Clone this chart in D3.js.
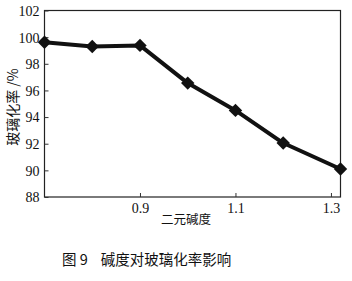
<!DOCTYPE html>
<html>
<head>
<meta charset="utf-8">
<script src="https://cdn.jsdelivr.net/npm/d3@7"></script>
<style>
  body { margin: 0; background: #fff; }
  text { fill: #111; }
</style>
</head>
<body>
<script>
// basicity vs vitrification rate
var basicity = [0.7, 0.8, 0.9, 1.0, 1.1, 1.2, 1.32];
var glassRate = [99.62, 99.3, 99.38, 96.55, 94.5, 92.05, 90.1];
var xTicks = [0.9, 1.1, 1.3];
var yTicks = [88, 90, 92, 94, 96, 98, 100, 102];

var width = 352, height = 281;
var plotL = 44.5, plotR = 340.5, plotT = 10.5, plotB = 197;

var svg = d3.select('body').append('svg')
    .attr('width', width)
    .attr('height', height);

var x = d3.scaleLinear().domain([0.7, 1.32]).range([plotL, plotR]);
var y = d3.scaleLinear().domain([88, 102]).range([plotB, plotT]);

var serif = '"Liberation Serif", "DejaVu Serif", serif';
var cjk = '"Noto Sans CJK SC", sans-serif';

// frame
svg.append('rect')
    .attr('x', plotL).attr('y', plotT)
    .attr('width', plotR - plotL).attr('height', plotB - plotT)
    .attr('fill', 'none').attr('stroke', '#222').attr('stroke-width', 1.2);

// axes, ticks pointing inward
var yAxis = svg.append('g')
    .attr('transform', 'translate(' + plotL + ',0)')
    .call(d3.axisLeft(y).tickValues(yTicks).tickSizeInner(-4).tickSizeOuter(0).tickPadding(5));
var xAxis = svg.append('g')
    .attr('transform', 'translate(0,' + plotB + ')')
    .call(d3.axisBottom(x).tickValues(xTicks).tickFormat(d3.format('.1f')).tickSizeInner(-4).tickSizeOuter(0).tickPadding(6));

[xAxis, yAxis].forEach(function(a) {
  a.select('.domain').remove();
  a.selectAll('line').attr('stroke', '#333');
  a.selectAll('text')
      .attr('font-family', serif)
      .attr('font-size', 14)
      .attr('fill', '#111');
});
yAxis.selectAll('text').attr('dy', '0.35em');

// axis titles
svg.append('text')
    .attr('x', 186).attr('y', 224)
    .attr('text-anchor', 'middle')
    .attr('font-family', cjk)
    .attr('font-size', 12.5)
    .text('二元碱度');

svg.append('text')
    .attr('transform', 'translate(18,107) rotate(-90)')
    .attr('text-anchor', 'middle')
    .attr('font-family', cjk)
    .attr('font-size', 14)
    .text('玻璃化率 /%');

// line and markers
var pts = basicity.map(function(b, i) { return [b, glassRate[i]]; });

svg.append('path')
    .datum(pts)
    .attr('fill', 'none')
    .attr('stroke', '#111')
    .attr('stroke-width', 4)
    .attr('stroke-linejoin', 'round')
    .attr('d', d3.line()
      .x(function(d) { return x(d[0]); })
      .y(function(d) { return y(d[1]); }));

svg.selectAll('.mark')
    .data(pts)
  .enter().append('path')
    .attr('class', 'mark')
    .attr('fill', '#111')
    .attr('transform', function(d) {
      return 'translate(' + x(d[0]) + ',' + y(d[1]) + ') rotate(45)';
    })
    .attr('d', d3.symbol(d3.symbolSquare, 90));

// caption
svg.append('text')
    .attr('x', 62).attr('y', 265)
    .attr('font-family', cjk)
    .attr('font-size', 14.5)
    .attr('xml:space', 'preserve')
    .text('图 9    碱度对玻璃化率影响');
</script>
</body>
</html>
